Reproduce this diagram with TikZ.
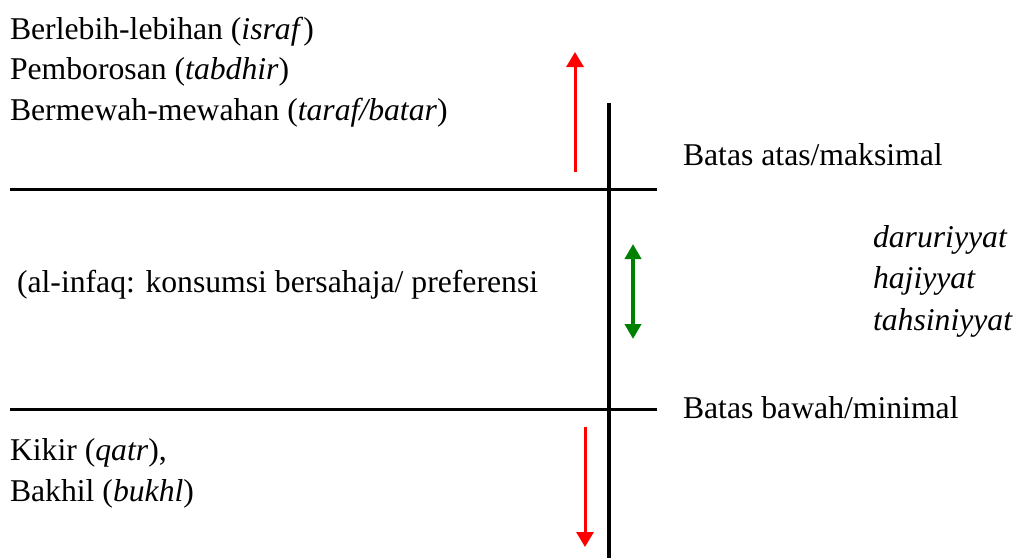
\documentclass[tikz,border=0pt]{standalone}
\usepackage{fontspec}
\setmainfont{Liberation Serif}
\usetikzlibrary{arrows.meta}
\definecolor{tgreen}{RGB}{0,128,0}
\definecolor{tred}{RGB}{255,0,0}
\begin{document}
\begin{tikzpicture}[x=1pt,y=-1pt,
  lbl/.style={anchor=base west,inner sep=0pt,outer sep=0pt,font=\fontsize{31.7}{36}\selectfont},
  axis/.style={line width=3.2pt,black},
  redarrow/.style={line width=3pt,tred,-{Triangle[length=15pt,width=17pt]}},
  greenarrow/.style={line width=4pt,tgreen,{Triangle[length=15pt,width=16pt]}-{Triangle[length=15pt,width=16pt]}}]
\useasboundingbox (0,0) rectangle (1019,557);
% axes
\coordinate (vtop) at (609,103);
\coordinate (vbot) at (609,560);
\coordinate (h1l) at (10,189.5);
\coordinate (h1r) at (657,189.5);
\coordinate (h2l) at (10,409.5);
\coordinate (h2r) at (657,409.5);
\draw[axis] (vtop) -- (vbot);
\draw[axis] (h1l) -- (h1r);
\draw[axis] (h2l) -- (h2r);
% arrows
\coordinate (ua) at (575,172);
\coordinate (ub) at (575,52);
\draw[redarrow] (ua) -- (ub);
\coordinate (ga) at (633,244);
\coordinate (gb) at (633,339);
\draw[greenarrow] (ga) -- (gb);
\coordinate (da) at (585,427);
\coordinate (db) at (585,547);
\draw[redarrow] (da) -- (db);
% texts
\node[lbl] (t1) at (10,39.5) {Berlebih-lebihan (\textit{israf})};
\node[lbl] (t2) at (10,79.5) {Pemborosan (\textit{tabdhir})};
\node[lbl] (t3) at (10,120) {Bermewah-mewahan (\textit{taraf/batar})};
\node[lbl] (ba) at (683,165.5) {Batas atas/maksimal};
\node[lbl] (inf) at (17,292) {(al-infaq: konsumsi bersahaja/ preferensi};
\node[lbl] (d1) at (873,247) {\textit{daruriyyat}};
\node[lbl] (d2) at (873,288.5) {\textit{hajiyyat}};
\node[lbl] (d3) at (873,330) {\textit{tahsiniyyat}};
\node[lbl] (bb) at (683,418.5) {Batas bawah/minimal};
\node[lbl] (k1) at (10,460.5) {Kikir (\textit{qatr}),};
\node[lbl] (k2) at (10,501.5) {Bakhil (\textit{bukhl})};
\end{tikzpicture}
\end{document}
